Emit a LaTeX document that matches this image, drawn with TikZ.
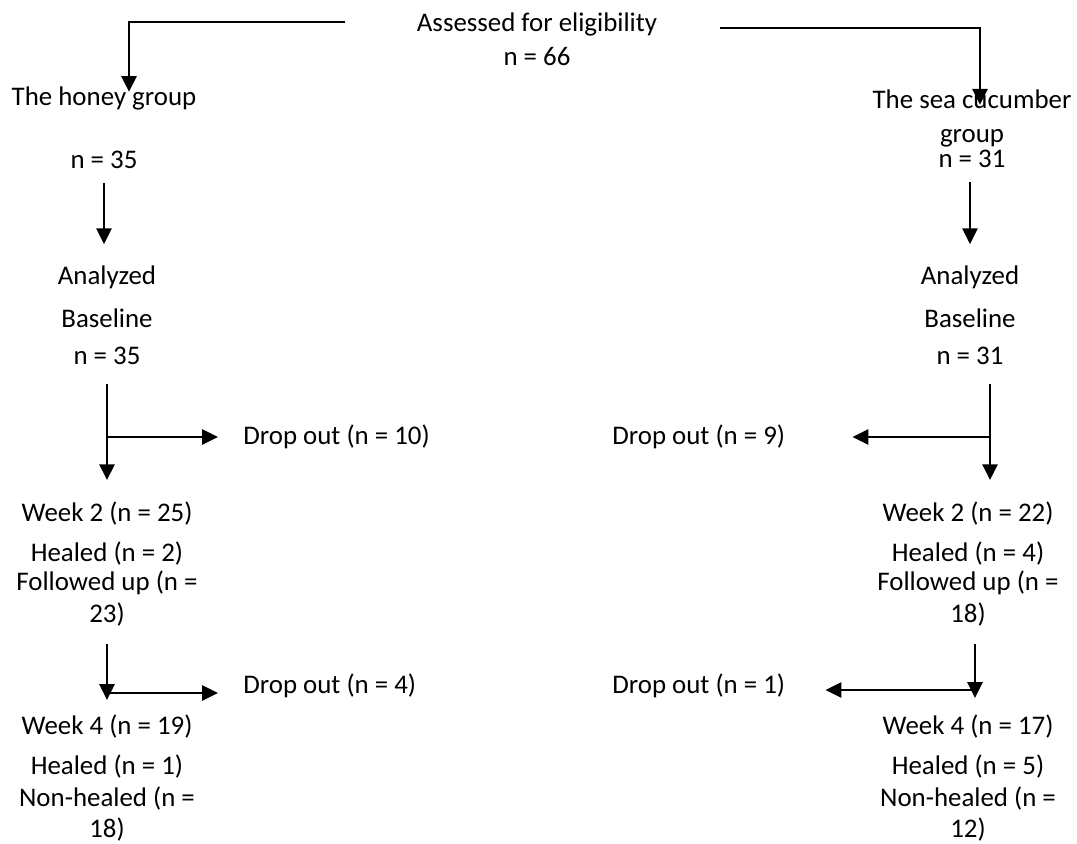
\documentclass[tikz,border=0pt]{standalone}
\usepackage{fontspec}
\setmainfont{Carlito}
\usetikzlibrary{arrows.meta}

\begin{document}
\begin{tikzpicture}[x=0.02cm, y=-0.02cm,
    lbl/.style={align=center, inner sep=0pt, font=\fontsize{15.3}{17}\selectfont},
    arr/.style={line width=1.6pt, -{Triangle[width=8.5pt,length=9pt]}}]
    \useasboundingbox (0,0) rectangle (1077,843);

    % Top
    \node[lbl] (assess) at (537,39) {Assessed for eligibility\\[2.3pt] n = 66};
    \coordinate (aL) at (345,22);
    \coordinate (aR) at (720,28);

    % Groups
    \node[lbl] (honey) at (104,128) {The honey group\\[18.7pt] n = 35};
    \node[lbl] (cucum) at (972,129) {The sea cucumber\\[2.2pt] group\\[-2.6pt] n = 31};

    % Baseline
    \node[lbl] (anaL) at (107,315) {Analyzed\\[7.4pt] Baseline\\[4pt] n = 35};
    \node[lbl] (anaR) at (970,315) {Analyzed\\[7.4pt] Baseline\\[4pt] n = 31};

    % Week 2
    \node[lbl] (wk2L) at (107,564) {Week 2 (n = 25)\\[5.7pt] Healed (n = 2)\\ Followed up (n =\\[1.1pt] 23)};
    \node[lbl] (wk2R) at (968,564) {Week 2 (n = 22)\\[5.7pt] Healed (n = 4)\\ Followed up (n =\\[1.1pt] 18)};

    % Week 4
    \node[lbl] (wk4L) at (107,778) {Week 4 (n = 19)\\[5.7pt] Healed (n = 1)\\[1.1pt] Non-healed (n =\\[0.6pt] 18)};
    \node[lbl] (wk4R) at (968,778) {Week 4 (n = 17)\\[5.7pt] Healed (n = 5)\\[1.1pt] Non-healed (n =\\[0.6pt] 12)};

    % Drop outs
    \node[lbl, anchor=west] (drop1L) at (243,437) {Drop out (n = 10)};
    \node[lbl, anchor=west] (drop2L) at (243,686) {Drop out (n = 4)};
    \node[lbl, anchor=west] (drop1R) at (612,437) {Drop out (n = 9)};
    \node[lbl, anchor=west] (drop2R) at (612,686) {Drop out (n = 1)};

    % Arrows from top
    \draw[arr] (aL) -| ([xshift=0.5cm,yshift=-0.1cm]honey.north);
    \draw[arr] (aR) -| ([xshift=0.16cm,yshift=-0.3cm]cucum.north);

    % Left column
    \draw[arr, shorten <=8pt, shorten >=12pt] (honey.south) -- (honey.south |- anaL.north);
    \draw[arr, shorten <=11pt, shorten >=12pt] (anaL.south) -- (anaL.south |- wk2L.north);
    \draw[arr] (anaL.south |- drop1L.west) -- ([xshift=-0.5cm]drop1L.west);
    \draw[arr, shorten <=10pt] (wk2L.south) -- ([yshift=-0.28cm]wk2L.south |- drop2L.west);
    \draw[arr] ([yshift=-0.14cm]wk2L.south |- drop2L.west) -- ([xshift=-0.5cm,yshift=-0.14cm]drop2L.west);

    % Right column
    \draw[arr, shorten <=8pt, shorten >=12pt] ([xshift=-0.04cm]cucum.south) -- ([xshift=-0.04cm]cucum.south |- anaR.north);
    \draw[arr, shorten <=11pt, shorten >=12pt] ([xshift=0.4cm]anaR.south) -- ([xshift=0.4cm]anaR.south |- wk2R.north);
    \draw[arr] ([xshift=0.4cm]anaR.south |- drop1R.east) -- ([xshift=1.34cm]drop1R.east);
    \draw[arr, shorten <=10pt] ([xshift=0.14cm]wk2R.south) -- ([xshift=0.14cm,yshift=-0.24cm]wk2R.south |- drop2R.east);
    \draw[arr] ([xshift=0.14cm,yshift=-0.08cm]wk2R.south |- drop2R.east) -- ([xshift=0.8cm,yshift=-0.08cm]drop2R.east);
\end{tikzpicture}
\end{document}
